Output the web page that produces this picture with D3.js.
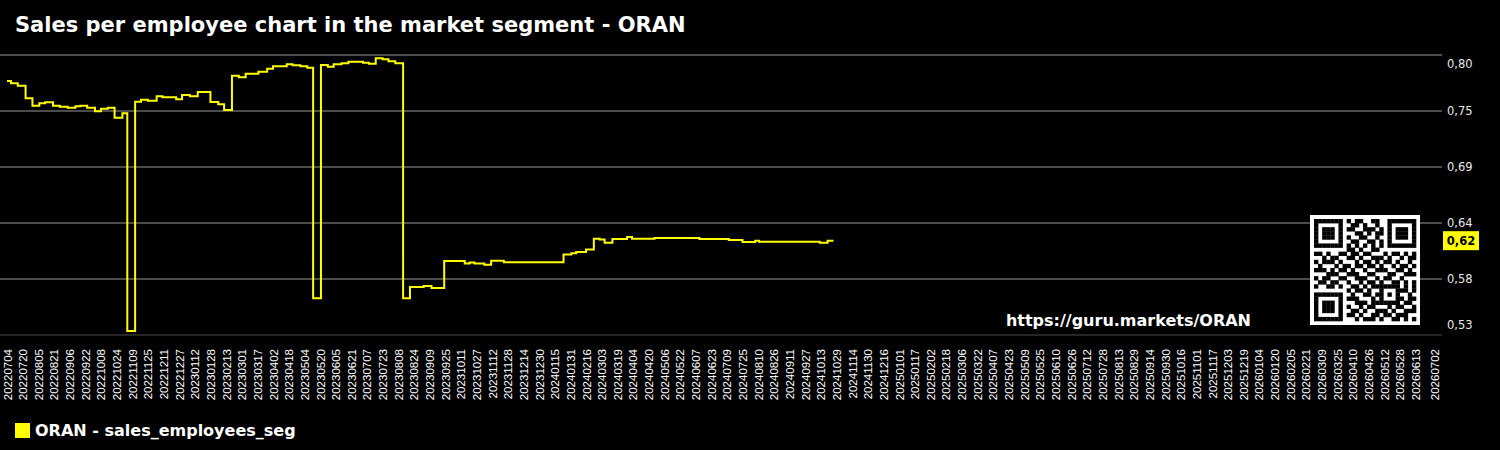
<!DOCTYPE html>
<html>
<head>
<meta charset="utf-8">
<script src="https://cdn.jsdelivr.net/npm/d3@7"></script>
<style>
  html, body { margin: 0; padding: 0; background: #000; }
  svg { display: block; font-family: 'DejaVu Sans', sans-serif; }
</style>
</head>
<body>
<script>
// dates where the value changes (step chart), last one is the end of the series
const stepDates = [
  '20220704', '20220708', '20220715', '20220723', '20220730', '20220806', '20220812', '20220820', '20220827', '20220904',
  '20220912', '20220917', '20220924', '20221002', '20221008', '20221015', '20221022', '20221030', '20221104', '20221112',
  '20221118', '20221125', '20221204', '20221210', '20221224', '20221230', '20230107', '20230115', '20230128', '20230205',
  '20230211', '20230219', '20230226', '20230305', '20230318', '20230327', '20230402', '20230416', '20230422', '20230430',
  '20230507', '20230513', '20230521', '20230528', '20230603', '20230611', '20230618', '20230703', '20230709', '20230716',
  '20230723', '20230729', '20230805', '20230813', '20230820', '20230903', '20230911', '20230924', '20231015', '20231020',
  '20231025', '20231104', '20231111', '20231124', '20240124', '20240201', '20240206', '20240216', '20240224', '20240301',
  '20240306', '20240314', '20240329', '20240403', '20240426', '20240611', '20240711', '20240725', '20240807', '20240811',
  '20241012', '20241020', '20241026'
];

const salesValues = [
  0.7782, 0.7759, 0.7736, 0.7612, 0.7540, 0.7563, 0.7573, 0.7540, 0.7530, 0.7520,
  0.7534, 0.7540, 0.7520, 0.7485, 0.7511, 0.7520, 0.7422, 0.7465, 0.5335, 0.7579,
  0.7599, 0.7589, 0.7632, 0.7622, 0.7602, 0.7645, 0.7632, 0.7674, 0.7576, 0.7554,
  0.7498, 0.7833, 0.7818, 0.7853, 0.7873, 0.7902, 0.7925, 0.7945, 0.7935, 0.7925,
  0.7912, 0.5655, 0.7938, 0.7922, 0.7945, 0.7955, 0.7970, 0.7961, 0.7951, 0.8004,
  0.7994, 0.7974, 0.7955, 0.5655, 0.5766, 0.5776, 0.5756, 0.6020, 0.5996, 0.6005,
  0.5996, 0.5984, 0.6023, 0.6007, 0.6084, 0.6096, 0.6108, 0.6133, 0.6237, 0.6231,
  0.6199, 0.6235, 0.6255, 0.6238, 0.6245, 0.6235, 0.6226, 0.6206, 0.6218, 0.6208,
  0.6198, 0.6219, 0.6219
];

const yTicks = [0.5296, 0.5844, 0.6392, 0.6940, 0.7488, 0.8036];
const axisStart = '20220704', axisEnd = '20260702';

const ticker = 'ORAN';
const titleText = 'Sales per employee chart in the market segment - ' + ticker;
const seriesName = ticker + ' - sales_employees_seg';
const siteUrl = 'https://guru.markets/' + ticker;

// QR-like block drawn at bottom right
const qrRows = [
  '1111111010110011001111111',
  '1000001001101001001000001',
  '1011101011001110101011101',
  '1011101000110101101011101',
  '1011101010011001001011101',
  '1000001001100110101000001',
  '1111111010101010101111111',
  '0000000011010011000000000',
  '1101001101101100010110101',
  '0010110011010011101001011',
  '1011101000101101011010010',
  '0100010110110110100101101',
  '1110101101001001110011010',
  '0001110011100110001100111',
  '1011001100111001011001000',
  '0110110010010110100110101',
  '1001101001101011111110101',
  '0000000010110100100011101',
  '1111111001001101101010010',
  '1000001011100010100011011',
  '1011101000111011111110110',
  '1011101010010110001011001',
  '1011101001101001110100111',
  '1000001011010011011011100',
  '1111111000101110100110101'
];

const width = 1500, height = 450;
const plotLeft = 0, plotRight = 1442, plotTop = 55, plotBottom = 335;
const fmt = (v) => v.toFixed(2).replace('.', ',');
const parseDay = d3.timeParse('%Y%m%d');

const svg = d3.select('body')
  .append('svg')
  .attr('width', width)
  .attr('height', height);

svg.append('rect')
  .attr('width', width)
  .attr('height', height)
  .attr('fill', '#000');

const x = d3.scaleTime()
  .domain([parseDay(axisStart), parseDay(axisEnd)])
  .range([7, 1434]);

const y = d3.scaleLinear()
  .domain([yTicks[0], yTicks[yTicks.length - 1]])
  .range([plotBottom, plotTop]);

// grid
svg.append('g')
  .selectAll('line')
  .data(yTicks)
  .enter()
  .append('line')
  .attr('x1', plotLeft)
  .attr('x2', plotRight)
  .attr('y1', (d) => y(d))
  .attr('y2', (d) => y(d))
  .attr('stroke', (d, i) => i === 0 ? '#333' : '#666')
  .attr('stroke-width', 1.5);

// y labels on the right, first/last pushed inside
svg.append('g')
  .selectAll('text')
  .data(yTicks)
  .enter()
  .append('text')
  .attr('x', 1447)
  .attr('y', (d, i) => y(d) + (i === 0 ? -10 : i === yTicks.length - 1 ? 9 : 0))
  .attr('dy', '0.35em')
  .attr('fill', '#e8e8e8')
  .attr('font-size', 11.5)
  .text(fmt);

// x axis, one label every 16 days and the end date
const xTicks = d3.timeDay.range(parseDay(axisStart), d3.timeDay.offset(parseDay(axisEnd), -16), 16)
  .concat([parseDay(axisEnd)]);

const xAxis = d3.axisBottom(x)
  .tickValues(xTicks)
  .tickFormat(d3.timeFormat('%Y%m%d'))
  .tickSize(0);

const xg = svg.append('g')
  .attr('transform', 'translate(0, 349)')
  .attr('font-size', 11.5)
  .attr('font-family', 'DejaVu Sans, sans-serif')
  .call(xAxis);

xg.select('.domain').remove();
xg.selectAll('text')
  .attr('x', 0)
  .attr('y', 0)
  .attr('dy', '0.35em')
  .attr('transform', 'rotate(-90)')
  .style('text-anchor', 'end')
  .attr('fill', '#fff')
  .attr('font-size', 11.5);

// the series
const points = stepDates.map((d, i) => ({ date: parseDay(d), value: salesValues[i] }));

const line = d3.line()
  .x((d) => x(d.date))
  .y((d) => y(d.value))
  .curve(d3.curveStepAfter);

svg.append('path')
  .datum(points)
  .attr('d', line)
  .attr('fill', 'none')
  .attr('stroke', '#ffff00')
  .attr('stroke-width', 2);

// last value badge
const lastValue = salesValues[salesValues.length - 1];
svg.append('rect')
  .attr('x', 1443)
  .attr('y', y(lastValue) - 9.5)
  .attr('width', 36)
  .attr('height', 19)
  .attr('fill', '#ffff00');

svg.append('text')
  .attr('x', 1461)
  .attr('y', y(lastValue))
  .attr('dy', '0.35em')
  .attr('text-anchor', 'middle')
  .attr('font-size', 11.5)
  .attr('font-weight', 'bold')
  .attr('fill', '#000')
  .text(fmt(lastValue));

// QR block
const qrSize = qrRows.length, qrX = 1310, qrY = 215, qrBox = 110;
const cell = d3.scaleBand().domain(d3.range(qrSize)).range([4, qrBox - 4]);
const qr = svg.append('g').attr('transform', 'translate(' + qrX + ',' + qrY + ')');
qr.append('rect').attr('width', qrBox).attr('height', qrBox).attr('fill', '#fff');
qrRows.forEach((row, r) => {
  qr.selectAll('.r' + r)
    .data(row.split('').map((c, k) => ({ c: c, k: k })).filter((d) => d.c === '1'))
    .enter()
    .append('rect')
    .attr('x', (d) => cell(d.k))
    .attr('y', cell(r))
    .attr('width', cell.bandwidth() + 0.3)
    .attr('height', cell.bandwidth() + 0.3)
    .attr('fill', '#000');
});

svg.append('text')
  .attr('x', 1251)
  .attr('y', 326)
  .attr('text-anchor', 'end')
  .attr('font-size', 16)
  .attr('font-weight', 'bold')
  .attr('fill', '#fff')
  .text(siteUrl);

// title
svg.append('text')
  .attr('x', 15)
  .attr('y', 32)
  .attr('font-size', 21)
  .attr('font-weight', 'bold')
  .attr('fill', '#fff')
  .text(titleText);

// legend
svg.append('rect')
  .attr('x', 15)
  .attr('y', 423)
  .attr('width', 15)
  .attr('height', 15)
  .attr('fill', '#ffff00');

svg.append('text')
  .attr('x', 35)
  .attr('y', 436)
  .attr('font-size', 16)
  .attr('font-weight', 'bold')
  .attr('fill', '#fff')
  .text(seriesName);
</script>
</body>
</html>
